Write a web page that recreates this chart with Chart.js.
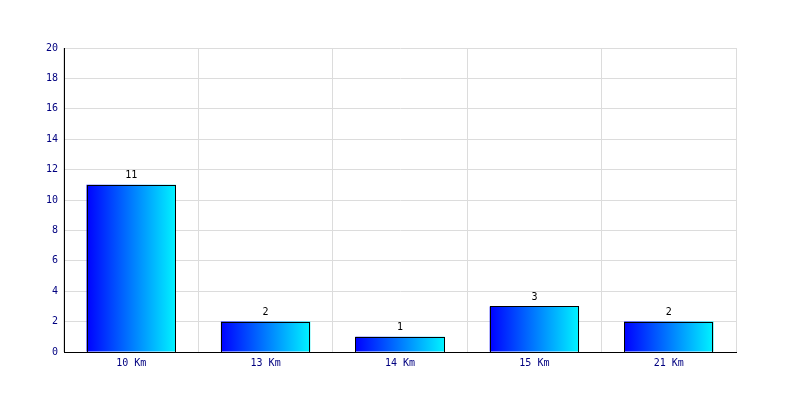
<!DOCTYPE html>
<html>
<head>
<meta charset="utf-8">
<script src="https://cdn.jsdelivr.net/npm/chart.js@4"></script>
<style>
  body { margin: 0; background: #fff; }
  #wrap { width: 800px; height: 400px; }
</style>
</head>
<body>
<div id="wrap"><canvas id="myChart" width="800" height="400"></canvas></div>
<script>
// data
var categories = ['10 Km', '13 Km', '14 Km', '15 Km', '21 Km'];
var valeurs = [11, 2, 1, 3, 2];
var yTicks = [0, 2, 4, 6, 8, 10, 12, 14, 16, 18, 20];

var barPct = 0.665;
var police = { family: 'DejaVu Sans Mono', size: 10 };

// degrade horizontal sur chaque barre
function degrade(context) {
	var chart = context.chart;
	var x = chart.scales.x;
	if (!chart.chartArea || !x) return '#0000ff';
	var c = x.getPixelForValue(context.dataIndex);
	var half = (x.width / categories.length) * barPct / 2;
	var g = chart.ctx.createLinearGradient(c - half, 0, c + half, 0);
	g.addColorStop(0, '#0000ff');
	g.addColorStop(1, '#00f4ff');
	return g;
}

// contour noir net + valeurs au dessus des barres
var etiquettes = {
	id: 'etiquettes',
	afterDatasetsDraw: function(chart) {
		var ctx = chart.ctx;
		var meta = chart.getDatasetMeta(0);
		ctx.save();
		ctx.strokeStyle = '#000';
		ctx.lineWidth = 1;
		meta.data.forEach(function(bar) {
			var l = Math.round(bar.x - bar.width / 2);
			var r = Math.round(bar.x + bar.width / 2);
			var t = Math.round(bar.y);
			var b = Math.round(bar.base);
			ctx.strokeRect(l + 0.5, t + 0.5, r - l - 1, b - t);
		});
		ctx.fillStyle = '#000';
		ctx.font = police.size + 'px ' + police.family;
		ctx.textAlign = 'center';
		ctx.textBaseline = 'bottom';
		meta.data.forEach(function(bar, i) {
			ctx.fillText(valeurs[i], bar.x, bar.y - 4);
		});
		ctx.restore();
	}
};

const ctx = document.getElementById('myChart');
new Chart(ctx, {
	type: 'bar',
	data: {
		labels: categories,
		datasets: [{
			data: valeurs,
			backgroundColor: degrade,
			borderWidth: 0,
			barPercentage: barPct,
			categoryPercentage: 1
		}]
	},
	options: {
		responsive: false,
		animation: false,
		layout: { padding: { left: 0, top: 48, right: 64, bottom: 0 } },
		plugins: { legend: { display: false }, tooltip: { enabled: false } },
		scales: {
			x: {
				offset: true,
				grid: { offset: true, color: '#dcdcdc', drawTicks: false },
				border: { color: '#000', width: 1 },
				ticks: { color: '#000080', font: police, padding: 5 },
				afterFit: function(s) { s.height = 48; }
			},
			y: {
				min: 0,
				max: 20,
				afterBuildTicks: function(s) { s.ticks = yTicks.map(function(v) { return { value: v }; }); },
				grid: { color: '#dcdcdc', drawTicks: false },
				border: { color: '#000', width: 1 },
				ticks: { color: '#000080', font: police, padding: 6 },
				afterFit: function(s) { s.width = 64; }
			}
		}
	},
	plugins: [etiquettes]
});
</script>
</body>
</html>
